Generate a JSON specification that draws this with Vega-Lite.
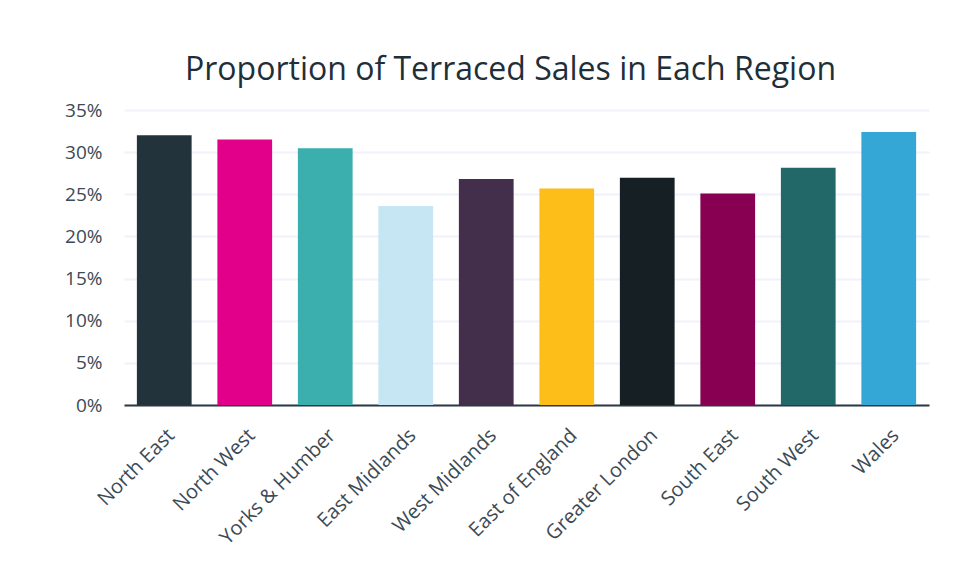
{
  "$schema": "https://vega.github.io/schema/vega-lite/v6.json",
  "autosize": "none",
  "width": 805,
  "height": 295,
  "padding": {"left": 124, "top": 110, "right": 25, "bottom": 174},
  "background": "white",
  "title": {
    "text": "Proportion of Terraced Sales in Each Region",
    "font": "Open Sans",
    "fontSize": 32,
    "fontWeight": "normal",
    "color": "#1f2f3a",
    "anchor": "middle",
    "dx": -16,
    "offset": 14
  },
  "data": {
    "values": [
      {"region": "North East", "share": 0.32, "color": "#22333b"},
      {"region": "North West", "share": 0.315, "color": "#e2008a"},
      {"region": "Yorks & Humber", "share": 0.3045, "color": "#3aafad"},
      {"region": "East Midlands", "share": 0.236, "color": "#c5e6f2"},
      {"region": "West Midlands", "share": 0.268, "color": "#432e4b"},
      {"region": "East of England", "share": 0.257, "color": "#fdbe1a"},
      {"region": "Greater London", "share": 0.2695, "color": "#151f24"},
      {"region": "South East", "share": 0.251, "color": "#870051"},
      {"region": "South West", "share": 0.2815, "color": "#226869"},
      {"region": "Wales", "share": 0.324, "color": "#34a7d6"}
    ]
  },
  "mark": {"type": "bar"},
  "encoding": {
    "x": {
      "field": "region",
      "type": "nominal",
      "sort": null,
      "scale": {"paddingInner": 0.32},
      "axis": {
        "title": null,
        "labelAngle": -45,
        "labelFont": "Open Sans",
        "labelFontSize": 20,
        "labelColor": "#3c4a54",
        "labelPadding": 20,
        "ticks": false,
        "domainColor": "#2b3a42",
        "domainWidth": 2,
        "grid": false
      }
    },
    "y": {
      "field": "share",
      "type": "quantitative",
      "scale": {"domain": [0, 0.35], "nice": false},
      "axis": {
        "title": null,
        "format": ".0%",
        "values": [0, 0.05, 0.1, 0.15, 0.2, 0.25, 0.3, 0.35],
        "labelFont": "Open Sans",
        "labelFontSize": 19,
        "labelColor": "#3c4a54",
        "labelPadding": 22,
        "ticks": false,
        "domain": false,
        "gridColor": "#f2f2fa",
        "gridWidth": 2
      }
    },
    "color": {"field": "color", "type": "nominal", "scale": null, "legend": null}
  },
  "config": {"view": {"stroke": null}}
}
